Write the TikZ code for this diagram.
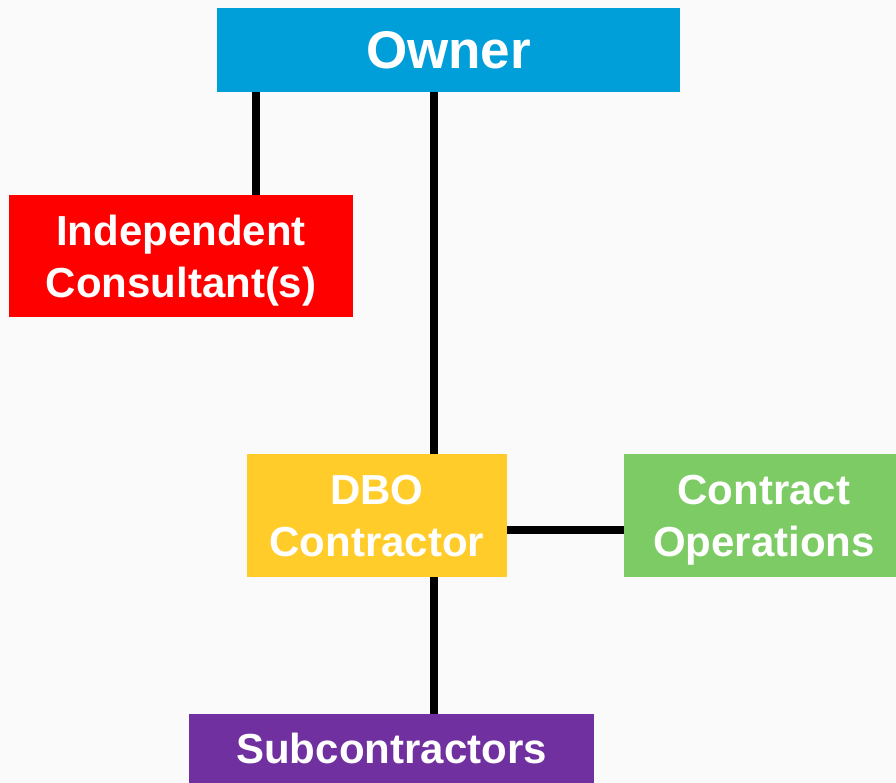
\documentclass[tikz,border=0pt]{standalone}
\usepackage{fontspec}
\setmainfont{Liberation Sans}
\begin{document}
\begin{tikzpicture}[x=1pt,y=-1pt,
  box/.style={rectangle, inner sep=0pt, text=white, align=center,
    text depth=0pt, font=\bfseries\fontsize{42}{52}\selectfont},
  link/.style={line width=8pt, black}]
\definecolor{ownerblue}{RGB}{0,159,218}
\definecolor{consultred}{RGB}{255,0,0}
\definecolor{dboyellow}{RGB}{255,204,41}
\definecolor{opsgreen}{RGB}{125,203,100}
\definecolor{subpurple}{RGB}{112,48,160}
\definecolor{pagebg}{RGB}{250,250,250}

% page
\fill[pagebg] (0,0) rectangle (896,783);
\useasboundingbox (0,0) rectangle (896,783);
\clip (0,0) rectangle (896,783);

% boxes
\node[box, fill=ownerblue, minimum width=463pt, minimum height=84pt,
  font=\bfseries\fontsize{53}{60}\selectfont] (owner) at (448.5,50) {Owner};
\node[box, fill=consultred, minimum width=344pt, minimum height=122pt]
  (consult) at (181,256) {Independent\\Consultant(s)};
\node[box, fill=dboyellow, minimum width=260pt, minimum height=123pt]
  (dbo) at (377,515.5) {DBO\\Contractor};
\node[box, fill=opsgreen, minimum width=280pt, minimum height=123pt]
  (ops) at (764,515.5) {Contract\\Operations};
\node[box, fill=subpurple, minimum width=405pt, minimum height=69pt]
  (sub) at (391.5,748.5) {Subcontractors};

% guide positions for the connectors
\coordinate (consultx) at (256,0);
\coordinate (trunkx) at (434,0);
\coordinate (opsy) at (0,530);

% connectors
\draw[link] (owner.south -| consultx) -- (consult.north -| consultx);
\draw[link] (owner.south -| trunkx) -- (dbo.north -| trunkx);
\draw[link] (dbo.east |- opsy) -- (ops.west |- opsy);
\draw[link] (dbo.south -| trunkx) -- (sub.north -| trunkx);
\end{tikzpicture}
\end{document}
